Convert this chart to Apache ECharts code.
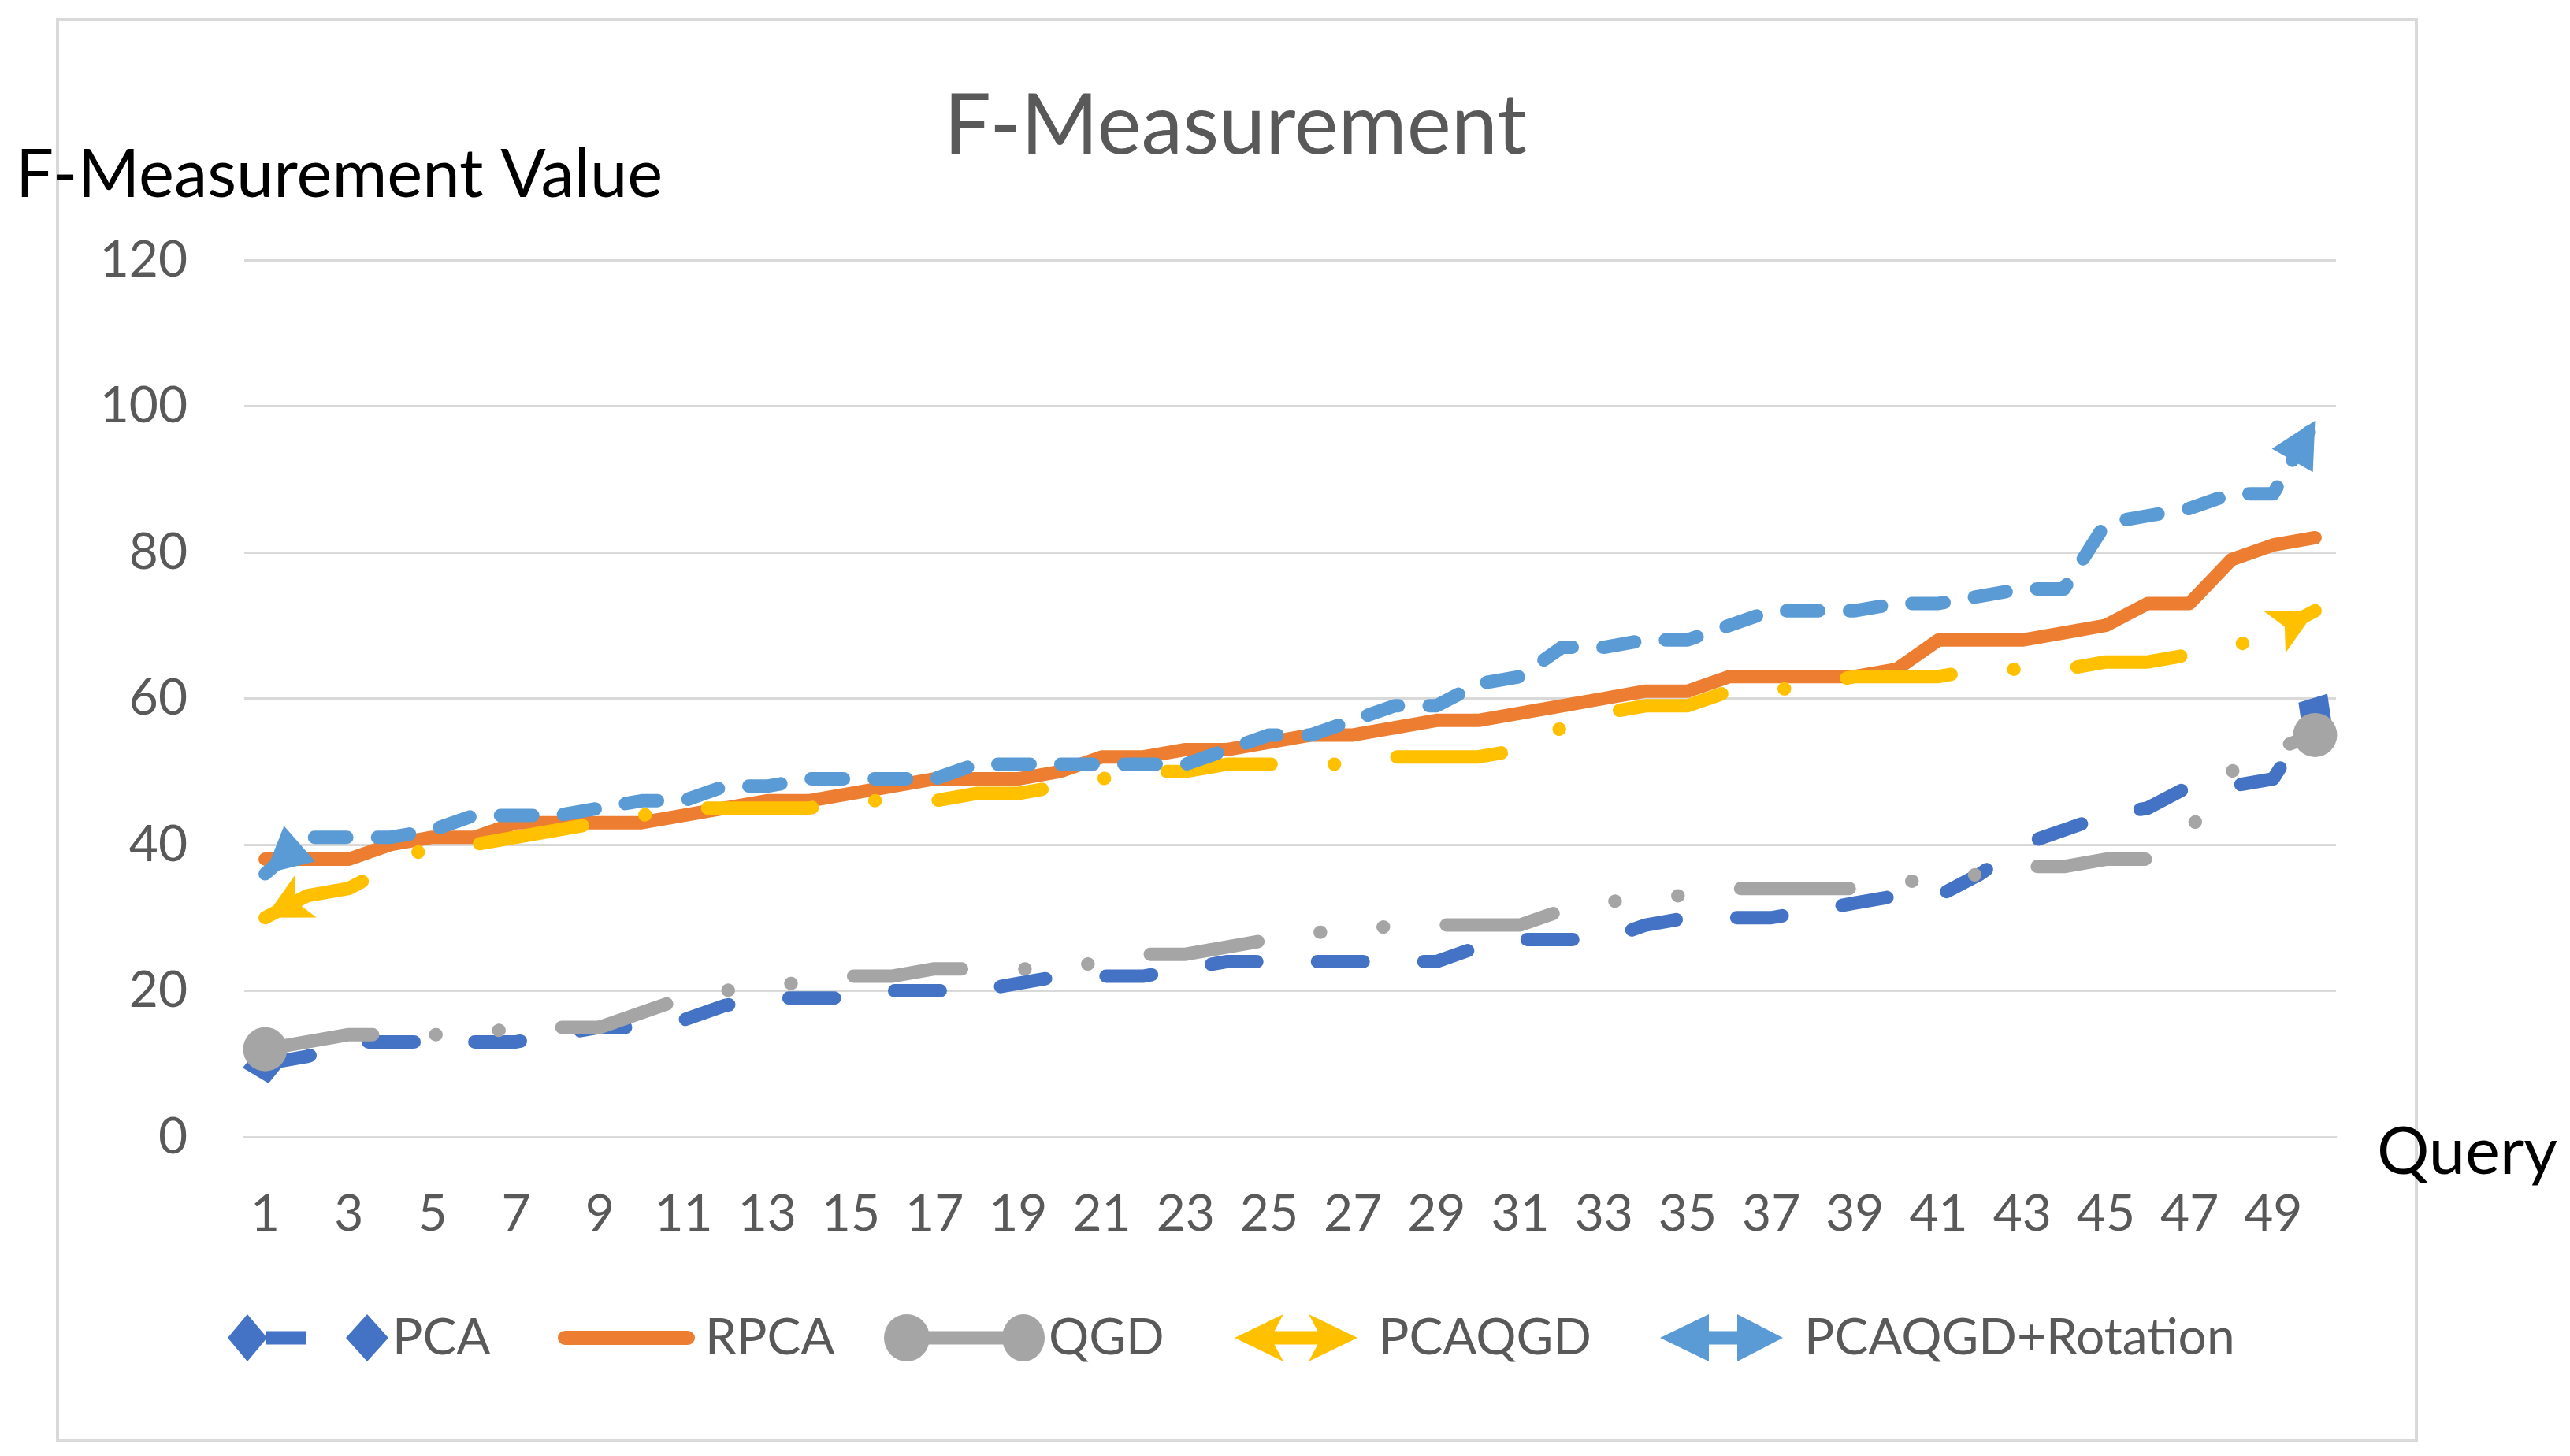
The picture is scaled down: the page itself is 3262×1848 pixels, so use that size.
<!DOCTYPE html>
<html>
<head>
<meta charset="utf-8">
<script src="https://cdn.jsdelivr.net/npm/echarts@6/dist/echarts.min.js"></script>
<style>html,body{margin:0;padding:0;background:#fff}#chart{width:3262px;height:1848px}</style>
</head>
<body>
<div id="chart"></div>
<script>
// ---------- DATA ----------
const categories = ['1','2','3','4','5','6','7','8','9','10','11','12','13','14','15','16','17','18','19','20',
  '21','22','23','24','25','26','27','28','29','30','31','32','33','34','35','36','37','38','39','40',
  '41','42','43','44','45','46','47','48','49','50'];
const pcaValues = [10,11,13,13,13,13,13,14,15,15,16,18,19,19,19,20,20,20,21,22,22,22,23,24,24,24,24,24,24,26,
  27,27,27,29,30,30,30,31,32,33,33,36,40,42,44,45,48,48,49,58];
const rpcaValues = [38,38,38,40,41,41,43,43,43,43,44,45,46,46,47,48,49,49,49,50,52,52,53,53,54,55,55,56,57,57,
  58,59,60,61,61,63,63,63,63,64,68,68,68,69,70,73,73,79,81,82];
const qgdValues = [12,13,14,14,14,14,15,15,15,17,19,20,21,21,22,22,23,23,23,23,24,25,25,26,27,28,28,29,29,29,
  29,31,32,33,33,34,34,34,34,35,35,36,37,37,38,38,42,50,53,55];
const pcaqgdValues = [30,33,34,37,40,40,41,42,43,44,45,45,45,45,46,46,46,47,47,48,49,50,50,51,51,51,51,52,52,52,
  53,56,58,59,59,61,61,62,63,63,63,64,64,64,65,65,66,67,69,72];
const rotationValues = [36,41,41,41,42,44,44,44,45,46,46,48,48,49,49,49,49,51,51,51,51,51,51,53,55,55,57,59,59,62,
  63,67,67,68,68,70,72,72,72,73,73,74,75,75,84,85,86,88,88,98];
const yMin = 0, yMax = 120, yStep = 20;
const seriesNames = ['PCA','RPCA','QGD','PCAQGD','PCAQGD+Rotation'];

// ---------- STYLE ----------
const FONT = 'Lato';
const LW = 17;
// marker shapes in local coords: +x is the line direction, origin is the data point
const SHAPES = {
  diamond: [[29, 0], [0, -25], [-29, 0], [0, 25]],
  stealth: [[0, 0], [-58, -30], [-43.5, 0], [-58, 30]],
  triangle: [[0, 0], [-58, -30], [-58, 30]]
};
const seriesDefs = [
  {name: seriesNames[0], values: pcaValues, color: '#4472C4', dash: [58, 77], marker: 'diamond'},
  {name: seriesNames[1], values: rpcaValues, color: '#ED7D31', dash: 'solid', marker: null},
  {name: seriesNames[2], values: qgdValues, color: '#A5A5A5', dash: [138, 80, 0.5, 80, 0.5, 80], marker: 'circle'},
  {name: seriesNames[3], values: pcaqgdValues, color: '#FFC000', dash: [133, 80, 0.5, 80], marker: 'stealth'},
  {name: seriesNames[4], values: rotationValues, color: '#5B9BD5', dash: [41, 39], marker: 'triangle'}
];

const legendDefs = [
  {name: seriesNames[0], left: 289, w: 204, h: 60,
   icon: 'path://M0,30L25,0L50,30L25,60Z M48,21.5H100V38.5H48Z M150,30L177,0L204,30L177,60Z', pad: 0},
  {name: seriesNames[1], left: 708, w: 174, h: 18,
   icon: 'path://M9,0H165A9,9 0 0 1 165,18H9A9,9 0 0 1 9,0Z', pad: 8},
  {name: seriesNames[2], left: 1122, w: 204, h: 60,
   icon: 'path://M0,30A29,30 0 1 1 58,30A29,30 0 1 1 0,30Z M55,21.5H153V38.5H55Z M150,30A27,30 0 1 1 204,30A27,30 0 1 1 150,30Z', pad: 0},
  {name: seriesNames[3], left: 1567, w: 156, h: 60,
   icon: 'path://M0,30L62,0L46,30L62,60Z M44,21.5H112V38.5H44Z M156,30L94,60L110,30L94,0Z', pad: 22},
  {name: seriesNames[4], left: 2107, w: 156, h: 60,
   icon: 'path://M0,30L62,0L62,60Z M60,21.5H100V38.5H60Z M156,30L98,60L98,0Z', pad: 22}
];

const chart = echarts.init(document.getElementById('chart'), null, {renderer: 'canvas'});

// rotate a marker polygon to the line direction phi (screen radians) and make a path symbol of it
function rotatedMarker(shapeName, phi) {
  const c = Math.cos(phi), s = Math.sin(phi);
  const pts = SHAPES[shapeName].map(p => [p[0] * c - p[1] * s, p[0] * s + p[1] * c]);
  const xs = pts.map(p => p[0]), ys = pts.map(p => p[1]);
  const minX = Math.min(...xs), maxX = Math.max(...xs), minY = Math.min(...ys), maxY = Math.max(...ys);
  const d = 'path://' + pts.map((p, i) => (i ? 'L' : 'M') + (p[0] - minX).toFixed(2) + ',' + (p[1] - minY).toFixed(2)).join('') + 'Z';
  return {
    symbol: d,
    symbolSize: [maxX - minX, maxY - minY],
    symbolOffset: [(minX + maxX) / 2, (minY + maxY) / 2]
  };
}

function endItem(def, idx, phi) {
  const item = {value: def.values[idx]};
  if (def.marker === 'circle') {
    item.symbol = 'circle';
    item.symbolSize = 56;
  } else if (phi !== null) {
    Object.assign(item, rotatedMarker(def.marker, phi));
  }
  return item;
}

function buildSeries(angles) {
  return seriesDefs.map((def, si) => {
    const n = def.values.length;
    const data = def.values.map((v, k) => {
      if (def.marker && (k === 0 || k === n - 1)) {
        const phi = angles ? angles[si][k === 0 ? 0 : 1] : null;
        return endItem(def, k, phi);
      }
      return v;
    });
    return {
      name: def.name,
      type: 'line',
      data: data,
      color: def.color,
      symbol: 'circle',
      symbolSize: 0,
      showSymbol: true,
      showAllSymbol: true,
      smooth: false,
      silent: true,
      animation: false,
      itemStyle: {color: def.color, borderWidth: 0},
      lineStyle: {color: def.color, width: LW, type: def.dash, cap: 'round', join: 'round'},
      emphasis: {disabled: true}
    };
  });
}

const option = {
  backgroundColor: '#ffffff',
  animation: false,
  title: [
    {text: 'F-Measurement', left: 1563, top: 103, textAlign: 'center',
     textStyle: {fontFamily: FONT, fontSize: 106, fontWeight: 'normal', color: '#595959'}},
    {text: 'F-Measurement Value', left: 15, top: 175,
     textStyle: {fontFamily: FONT, fontSize: 85, fontWeight: 'normal', color: '#000000'}}
  ],
  grid: {left: 310, right: 297, top: 330, bottom: 405, containLabel: false},
  xAxis: {
    type: 'category',
    data: categories,
    boundaryGap: true,
    name: 'Query',
    nameLocation: 'end',
    nameGap: 52,
    nameTextStyle: {fontFamily: FONT, fontSize: 83, color: '#000000', verticalAlign: 'top', lineHeight: 40},
    axisLine: {show: true, lineStyle: {color: '#D9D9D9', width: 3}},
    axisTick: {show: false},
    axisLabel: {interval: 1, margin: 66, fontFamily: FONT, fontSize: 64, color: '#595959'},
    splitLine: {show: false}
  },
  yAxis: {
    type: 'value',
    min: yMin, max: yMax, interval: yStep,
    axisLine: {show: false},
    axisTick: {show: false},
    axisLabel: {margin: 72, fontFamily: FONT, fontSize: 64, color: '#595959'},
    splitLine: {show: true, lineStyle: {color: '#D9D9D9', width: 3}}
  },
  legend: legendDefs.map(ld => ({
    data: [{name: ld.name, icon: ld.icon}],
    left: ld.left,
    top: 1666,
    itemWidth: ld.w,
    itemHeight: ld.h,
    padding: 0,
    selectedMode: false,
    textStyle: {fontFamily: FONT, fontSize: 64, color: '#595959', padding: [0, 0, 0, ld.pad]}
  })),
  graphic: [{
    type: 'rect', silent: true, z: -1,
    shape: {x: 73, y: 25, width: 2994, height: 1803},
    style: {fill: 'none', stroke: '#D9D9D9', lineWidth: 4}
  }],
  series: buildSeries(null)
};

chart.setOption(option);

// line direction at both ends, taken from the drawn scale (screen radians)
const angles = seriesDefs.map(def => {
  const n = def.values.length;
  const px = (k) => chart.convertToPixel({xAxisIndex: 0, yAxisIndex: 0}, [k, def.values[k]]);
  const p0 = px(0), p1 = px(1), pm = px(n - 2), pn = px(n - 1);
  return [Math.atan2(p0[1] - p1[1], p0[0] - p1[0]), Math.atan2(pn[1] - pm[1], pn[0] - pm[0])];
});
chart.setOption({series: buildSeries(angles)});
</script>
</body>
</html>
